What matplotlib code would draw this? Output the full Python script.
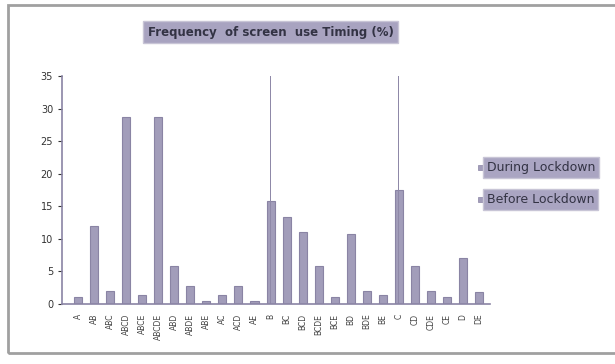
import matplotlib.pyplot as plt
import numpy as np
from matplotlib.patches import Rectangle

# screen use timing combinations
cats = ['A', 'AB', 'ABC', 'ABCD', 'ABCE', 'ABCDE', 'ABD', 'ABDE', 'ABE', 'AC',
        'ACD', 'AE', 'B', 'BC', 'BCD', 'BCDE', 'BCE', 'BD', 'BDE', 'BE',
        'C', 'CD', 'CDE', 'CE', 'D', 'DE']
during = [1.0, 12.0, 2.0, 28.7, 1.3, 28.7, 5.8, 2.8, 0.5, 1.3,
          2.8, 0.5, 15.8, 13.3, 11.0, 5.8, 1.0, 10.8, 2.0, 1.3,
          17.5, 5.8, 2.0, 1.0, 7.0, 1.8]
before = [0, 0, 0, 0, 0, 0, 0, 0, 0, 0,
          0, 0, 35, 0, 0, 0, 0, 0, 0, 0,
          35, 0, 0, 0, 0, 0]

fig = plt.figure(figsize=(6.15, 3.64), dpi=100)
ax = fig.add_axes([0.101, 0.165, 0.696, 0.626])

x = np.arange(len(cats))
ax.bar(x, during, width=0.5, color='#a29dba', edgecolor='#8a84a4', linewidth=0.8)
ax.bar(x, before, width=0.06, color='#8f89a8', linewidth=0)

ax.set_xlim(-1.0, len(cats) - 0.3)
ax.set_ylim(0, 35)
ax.set_yticks(np.arange(0, 36, 5))
ax.set_xticks(x)
ax.set_xticklabels(cats, rotation=90, fontsize=5.5, color='#444444')
ax.tick_params(axis='y', labelsize=7, colors='#333333', length=3, width=0.8)
ax.tick_params(axis='x', length=0, pad=7)
for s in ['top', 'right']:
    ax.spines[s].set_visible(False)
ax.spines['left'].set_color('#8a84a4')
ax.spines['bottom'].set_color('#8a84a4')
ax.spines['left'].set_linewidth(1.2)
ax.spines['bottom'].set_linewidth(1.2)

# title box
fig.text(0.44, 0.912, 'Frequency  of screen  use Timing (%)', ha='center', va='center',
         fontsize=8.5, fontweight='bold', color='#333344',
         bbox=dict(boxstyle='square,pad=0.4', facecolor='#a8a3c0', edgecolor='#c8c5d6'))

# legend
for yy, lab in [(0.54, 'During Lockdown'), (0.452, 'Before Lockdown')]:
    fig.patches.append(Rectangle((0.777, yy - 0.008), 0.008, 0.016, transform=fig.transFigure,
                                 facecolor='#a29dba', edgecolor='#8a84a4', linewidth=0.5))
    fig.text(0.792, yy, lab, ha='left', va='center', fontsize=9, color='#333344',
             bbox=dict(boxstyle='square,pad=0.3', facecolor='#aaa5c2', edgecolor='#c8c5d6'))

# outer frame
fig.patches.append(Rectangle((0.013, 0.03), 0.99, 0.955, transform=fig.transFigure,
                             fill=False, edgecolor='#a0a0a0', linewidth=2))

plt.savefig('out.png', dpi=100)
